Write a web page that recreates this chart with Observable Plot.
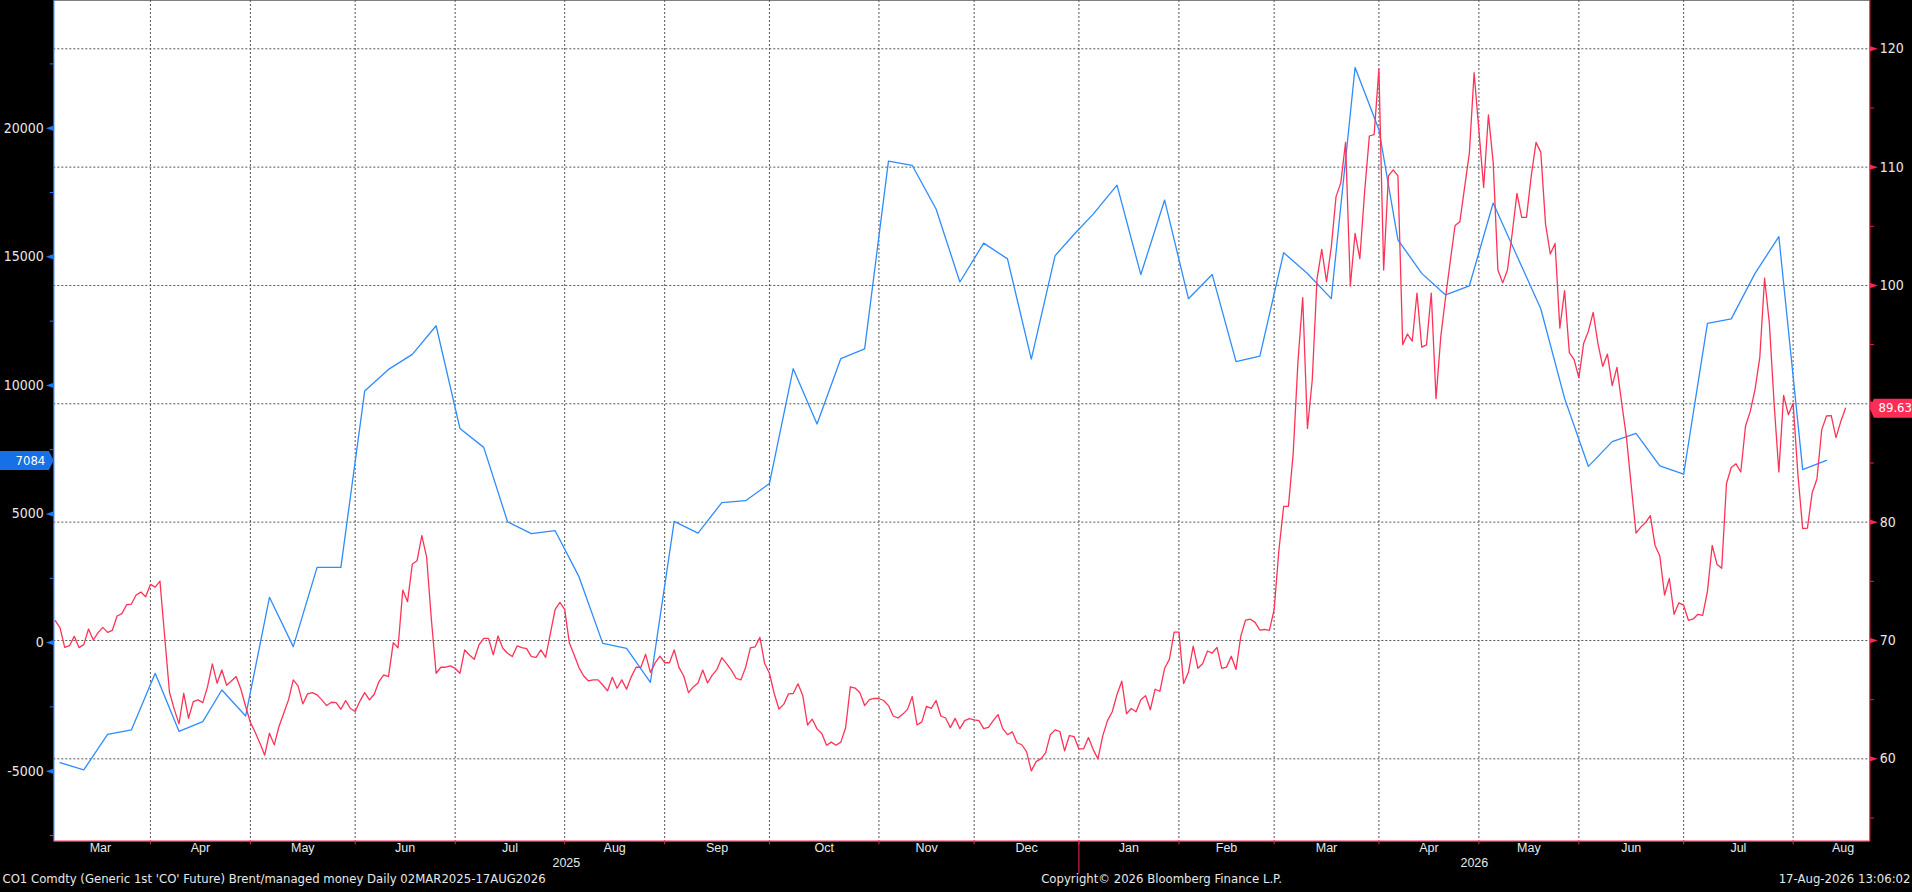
<!DOCTYPE html>
<html>
<head>
<meta charset="utf-8">
<script src="https://cdn.jsdelivr.net/npm/d3@7"></script>
<script src="https://cdn.jsdelivr.net/npm/@observablehq/plot@0.6"></script>
<style>
  html, body { margin: 0; padding: 0; background: #000; }
  #chart svg { display: block; }
</style>
</head>
<body>
<div id="chart"></div>
<script>
// ---------------- data ----------------
// ICE exchange holidays removed from the trading-day axis
const holidays = ["2025-04-18", "2025-12-25", "2026-01-01", "2026-04-03"];

// Brent (CO1) daily close, one value per trading day from 2025-03-03 to 2026-08-17
const brentStart = "2025-03-03";
const brentClose = [
  71.67, 71.08, 69.42, 69.56, 70.35, 69.40, 69.65, 70.97, 70.04, 70.66,
  71.11, 70.69, 70.86, 72.07, 72.27, 73.02, 73.08, 73.84, 74.09, 73.70,
  74.74, 74.51, 75.02, 70.30, 65.63, 64.20, 62.95, 65.54, 63.43, 64.84,
  64.98, 64.75, 66.10, 68.02, 66.39, 67.51, 66.22, 66.58, 66.95, 65.88,
  64.42, 63.07, 62.25, 61.32, 60.31, 62.17, 61.18, 62.73, 63.85, 64.98,
  66.67, 66.16, 64.64, 65.49, 65.60, 65.40, 64.98, 64.50, 64.78, 64.75,
  64.19, 64.92, 64.25, 64.00, 64.88, 65.60, 64.98, 65.46, 66.53, 67.09,
  66.95, 69.82, 69.39, 74.26, 73.28, 76.46, 76.74, 78.87, 77.07, 71.80,
  67.23, 67.74, 67.74, 67.85, 67.65, 67.23, 69.20, 68.78, 68.41, 69.62,
  70.18, 70.18, 68.78, 70.38, 69.34, 68.92, 68.64, 69.54, 69.39, 69.31,
  68.64, 68.58, 69.20, 68.58, 70.60, 72.63, 73.22, 72.63, 69.76, 68.78,
  67.71, 67.00, 66.58, 66.67, 66.67, 66.24, 65.74, 66.89, 65.96, 66.67,
  65.88, 66.95, 67.74, 67.74, 68.83, 67.30, 68.10, 68.68, 68.12, 68.12,
  69.20, 67.73, 67.00, 65.59, 66.08, 66.41, 67.50, 66.41, 67.07, 67.56,
  68.55, 68.05, 67.50, 66.81, 66.67, 67.73, 69.37, 69.47, 70.26, 68.05,
  67.23, 65.52, 64.21, 64.60, 65.49, 65.52, 66.34, 65.36, 62.86, 63.35,
  62.53, 62.14, 61.15, 61.41, 61.15, 61.41, 62.63, 66.08, 65.98, 65.59,
  64.50, 65.00, 65.10, 65.10, 64.93, 64.50, 63.62, 63.45, 63.78, 64.18,
  65.26, 62.86, 63.12, 64.44, 64.27, 64.93, 63.62, 63.45, 62.64, 63.42,
  62.55, 63.23, 63.40, 63.30, 63.23, 62.55, 62.65, 63.23, 63.74, 62.55,
  62.04, 62.28, 61.36, 61.19, 60.61, 58.98, 59.76, 60.00, 60.51, 62.04,
  62.45, 62.31, 60.68, 61.97, 61.87, 60.85, 60.85, 61.80, 60.78, 60.00,
  61.94, 63.23, 63.98, 65.44, 66.56, 63.81, 64.25, 63.98, 65.00, 65.34,
  64.15, 65.88, 65.71, 67.65, 68.40, 70.71, 70.71, 66.36, 67.31, 69.52,
  67.65, 68.06, 69.11, 68.94, 69.42, 67.65, 67.75, 68.67, 67.55, 70.37,
  71.73, 71.80, 71.53, 70.87, 70.93, 70.85, 72.60, 77.64, 81.33, 81.33,
  85.79, 93.55, 98.98, 87.92, 91.99, 100.53, 103.05, 100.33, 103.24, 107.51,
  108.67, 112.09, 99.95, 104.41, 102.27, 107.90, 112.63, 112.75, 118.29, 101.30,
  109.26, 109.76, 109.26, 95.00, 95.90, 95.29, 99.36, 94.79, 94.98, 99.36,
  90.44, 95.68, 98.98, 102.08, 105.07, 105.38, 108.29, 111.19, 117.98, 113.13,
  108.29, 114.41, 110.42, 101.30, 100.22, 101.30, 104.41, 107.78, 105.76, 105.76,
  109.26, 112.09, 111.27, 105.18, 102.66, 103.55, 96.40, 99.56, 94.32, 93.74,
  92.19, 95.10, 96.14, 97.73, 95.10, 93.16, 94.20, 91.53, 93.08, 90.05,
  87.14, 83.07, 79.08, 79.58, 79.97, 80.55, 78.03, 77.14, 73.84, 75.24,
  72.21, 73.18, 72.99, 71.71, 71.82, 72.21, 72.13, 74.15, 78.03, 76.45,
  76.10, 83.27, 84.62, 84.93, 84.24, 88.12, 89.36, 91.22, 93.93, 100.61,
  96.84, 90.05, 84.24, 90.71, 89.08, 90.05, 84.04, 79.46, 79.50, 82.49,
  83.65, 87.80, 88.97, 89.01, 87.14, 88.50, 89.63
];

// Managed money net position, weekly (Tuesdays) from 2025-03-04 to 2026-08-11
const positionsStart = "2025-03-04";
const managedMoney = [
  -4667, -4952, -3566, -3397, -1194, -3449, -3073, -1842, -2853, 1760,
  -158, 2926, 2926, 9779, 10622, 11205, 12319, 8328, 7590, 4700,
  4234, 4350, 2563, -30, -223, -1544, 4713, 4259, 5440, 5516,
  6182, 10648, 8498, 11042, 11421, 18718, 18551, 16856, 14020, 15531,
  14920, 11021, 15045, 15875, 16658, 17786, 14309, 17206, 13370, 14309,
  10927, 11140, 15160, 14350, 13373, 22361, 19949, 15660, 14356, 13516,
  13873, 17090, 15035, 12980, 9495, 6850, 7815, 8137, 6868, 6546,
  12408, 12587, 14356, 15785, 6725, 7084
];

const monthNames = ["Jan", "Feb", "Mar", "Apr", "May", "Jun", "Jul", "Aug", "Sep", "Oct", "Nov", "Dec"];
const priceTicks = [60, 70, 80, 90, 100, 110, 120];
const priceMinorTicks = [55, 65, 75, 85, 95, 105, 115];
const positionTicks = [-5000, 0, 5000, 10000, 15000, 20000];
const positionMinorTicks = [-7500, -2500, 2500, 7500, 12500, 17500, 22500];
const footerLeft = "CO1 Comdty (Generic 1st 'CO' Future) Brent/managed money Daily 02MAR2025-17AUG2026";
const footerCenter = "Copyright\u00A9 2026 Bloomberg Finance L.P.";
const footerRight = "17-Aug-2026 13:06:02";

// ---------------- scales config ----------------
const priceDomain = [53.04, 124.08];      // right axis
const positionDomain = [-7722, 24965];    // left axis, same pixel span
const xDomain = [-0.294, 381.1];          // trading-day index
const axisEnd = "2026-09-01";

// ---------------- derived ----------------
const fmt = d3.utcFormat("%Y-%m-%d");
const hol = new Set(holidays);
const calendar = d3.utcDay.range(new Date(brentStart), new Date(axisEnd))
  .filter(d => d.getUTCDay() > 0 && d.getUTCDay() < 6 && !hol.has(fmt(d)));
const indexOf = new Map(calendar.map((d, i) => [fmt(d), i]));

const brent = brentClose.map((v, i) => ({date: calendar[i], i, v}));
const tuesdays = d3.utcTuesday.range(new Date(positionsStart), new Date(axisEnd));
const positions = managedMoney.map((v, k) => ({date: tuesdays[k], i: indexOf.get(fmt(tuesdays[k])), v}));

const toPrice = d3.scaleLinear().domain(positionDomain).range(priceDomain);

const monthGroups = d3.groups(calendar.map((d, i) => ({d, i})), o => d3.utcFormat("%Y-%m")(o.d));
const monthInfo = monthGroups.map(([, arr]) => ({first: arr[0].i, last: arr[arr.length - 1].i, date: arr[0].d}));
const monthGrid = monthInfo.slice(1).map(m => m.first - 1).filter(x => x < xDomain[1]);
const monthLabels = monthInfo.map(m => ({x: (m.first - 1 + m.last) / 2, text: monthNames[m.date.getUTCMonth()]}))
  .filter(m => m.x < xDomain[1]);
const janInfo = monthInfo.find(m => m.date.getUTCMonth() === 0);
const yearGrid = janInfo.first - 1;
const yearLabels = [
  {x: (xDomain[0] + yearGrid) / 2, text: d3.utcFormat("%Y")(monthInfo[0].date)},
  {x: (yearGrid + xDomain[1]) / 2, text: d3.utcFormat("%Y")(janInfo.date)}
];
const lastPrice = brent[brent.length - 1];
const lastPos = positions[positions.length - 1];
// tick labels hidden underneath the last-value badges
const priceLabelTicks = priceTicks.filter(t => Math.abs(t - lastPrice.v) > 2.5);

// ---------------- style ----------------
const RED = "#ff3358";
const RED_AXIS = "#ff2452";
const BLUE = "#2e8cff";
const BLUE_AXIS = "#1a78ff";
const TXT = "#e8e8e8";
const GRID = "#555555";
const axisFont = "'Liberation Sans Narrow', 'Arial Narrow', 'DejaVu Sans Condensed', sans-serif";
const labelFont = "'Liberation Sans', Arial, sans-serif";
const footFont = "'DejaVu Sans', sans-serif";

const triRight = {draw(ctx) { ctx.moveTo(0, -2.7); ctx.lineTo(8, 0); ctx.lineTo(0, 2.7); ctx.closePath(); }};
const triLeft = {draw(ctx) { ctx.moveTo(0, -2.7); ctx.lineTo(-8, 0); ctx.lineTo(0, 2.7); ctx.closePath(); }};
const badgeLeft = {draw(ctx) { ctx.moveTo(0, 0); ctx.lineTo(-5, -9.5); ctx.lineTo(-60, -9.5); ctx.lineTo(-60, 9.5); ctx.lineTo(-5, 9.5); ctx.closePath(); }};
const badgeRight = {draw(ctx) { ctx.moveTo(0, 0); ctx.lineTo(4, -9.5); ctx.lineTo(50, -9.5); ctx.lineTo(50, 9.5); ctx.lineTo(4, 9.5); ctx.closePath(); }};

const chart = Plot.plot({
  width: 1912,
  height: 892,
  marginLeft: 53.3,
  marginRight: 42.7,
  marginTop: 0,
  marginBottom: 51.3,
  style: {background: "#000", color: TXT, fontFamily: axisFont},
  x: {domain: xDomain, axis: null},
  y: {domain: priceDomain, axis: null},
  marks: [
    Plot.frame({fill: "white"}),
    Plot.gridY(priceTicks, {stroke: GRID, strokeOpacity: 1, strokeDasharray: "2,2"}),
    Plot.gridX(monthGrid, {stroke: GRID, strokeOpacity: 1, strokeDasharray: "2,2"}),

    Plot.line(positions, {x: "i", y: d => toPrice(d.v), stroke: BLUE, strokeWidth: 1.3}),
    Plot.line(brent, {x: "i", y: "v", stroke: RED, strokeWidth: 1.3}),

    // axis lines
    Plot.ruleX([xDomain[0]], {stroke: BLUE_AXIS, strokeWidth: 1.2}),
    Plot.ruleX([xDomain[1]], {stroke: RED_AXIS, strokeWidth: 1.2}),
    Plot.ruleY([priceDomain[0]], {stroke: RED_AXIS, strokeWidth: 1.2}),

    // right axis (price)
    Plot.axisY(priceMinorTicks, {anchor: "right", tickSize: 3.5, stroke: RED_AXIS, fill: "none", label: null}),
    Plot.dot(priceTicks, {y: d => d, frameAnchor: "right", symbol: triRight, fill: RED_AXIS, stroke: "none"}),
    Plot.axisY(priceLabelTicks, {anchor: "right", tickSize: 0, tickPadding: 10, fill: TXT, fontSize: 14, label: null}),

    // left axis (managed money)
    Plot.axisY(positionMinorTicks.map(d => toPrice(d)), {anchor: "left", tickSize: 3.5, stroke: BLUE_AXIS, fill: "none", label: null}),
    Plot.dot(positionTicks, {y: d => toPrice(d), frameAnchor: "left", symbol: triLeft, fill: BLUE_AXIS, stroke: "none"}),
    Plot.text(positionTicks, {y: d => toPrice(d), text: d => String(d), frameAnchor: "left", textAnchor: "end", dx: -10, fill: TXT, fontSize: 14}),

    // bottom axis
    Plot.axisX(monthGrid, {anchor: "bottom", tickSize: 3.5, stroke: RED_AXIS, fill: "none", label: null}),
    Plot.axisX([yearGrid], {anchor: "bottom", tickSize: 33, stroke: RED_AXIS, fill: "none", label: null}),
    Plot.text(monthLabels, {x: "x", text: "text", frameAnchor: "bottom", dy: 10.5, fill: TXT, fontSize: 12.5, fontFamily: labelFont}),
    Plot.text(yearLabels, {x: "x", text: "text", frameAnchor: "bottom", dy: 25.5, fill: TXT, fontSize: 12.5, fontFamily: labelFont}),

    // last value badges
    Plot.dot([lastPos], {y: d => toPrice(d.v), frameAnchor: "left", symbol: badgeLeft, fill: "#1670e8", stroke: "none"}),
    Plot.text([lastPos], {y: d => toPrice(d.v), text: d => d3.format("d")(d.v), frameAnchor: "left", textAnchor: "end", dx: -8.5, fill: "white", fontSize: 13}),
    Plot.dot([lastPrice], {y: "v", frameAnchor: "right", symbol: badgeRight, fill: "#ff2d55", stroke: "none"}),
    Plot.text([lastPrice], {y: "v", text: d => d.v.toFixed(2), frameAnchor: "right", textAnchor: "start", dx: 8.7, fill: "white", fontSize: 13}),

    // footer
    Plot.text([footerLeft], {text: d => d, frameAnchor: "bottom-left", textAnchor: "start", dx: -51.3, dy: 42, fill: TXT, fontSize: 11.7, fontFamily: footFont}),
    Plot.text([footerCenter], {text: d => d, frameAnchor: "bottom-left", textAnchor: "start", dx: 987.4, dy: 42, fill: TXT, fontSize: 11.7, fontFamily: footFont}),
    Plot.text([footerRight], {text: d => d, frameAnchor: "bottom-right", textAnchor: "end", dx: 40.7, dy: 42, fill: TXT, fontSize: 11.7, fontFamily: footFont})
  ]
});
document.getElementById("chart").appendChild(chart);
</script>
</body>
</html>
